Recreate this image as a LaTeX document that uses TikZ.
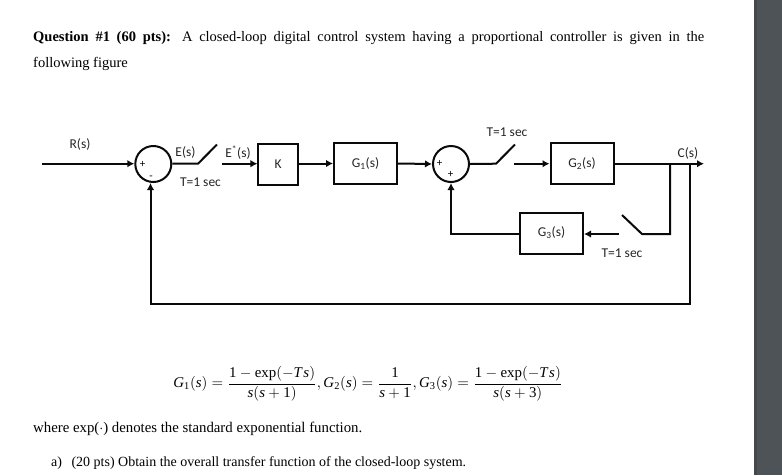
\documentclass[tikz,border=0pt]{standalone}
\usepackage{amsmath}
\usepackage{fontspec}
\setmainfont{Liberation Serif}
\newfontfamily\diagfont{Carlito}
\usetikzlibrary{arrows.meta}
\definecolor{bandgrey}{HTML}{4E5357}
\definecolor{bandedge}{HTML}{43484C}
\definecolor{inkline}{HTML}{0A0A0A}
\newcommand{\mv}[1]{\textit{#1}}
\newcommand{\mn}[1]{\textrm{#1}}
\tikzset{
  x=1pt,y=-1pt,
  wire/.style={draw=inkline,line width=2pt,line join=miter},
  arrowwire/.style={wire,-{Latex[length=7pt,width=7.5pt]}},
  blockbox/.style={draw=inkline,line width=2pt,inner sep=0pt,fill=white,font=\diagfont\fontsize{13.5}{15}\selectfont,text=black!85},
  sumnode/.style={circle,draw=inkline,line width=2pt,minimum size=36pt,inner sep=0pt},
  dlabel/.style={inner sep=0pt,font=\diagfont\fontsize{13.5}{15}\selectfont,text=black!85},
  signlabel/.style={inner sep=0pt,font=\diagfont\fontsize{11}{12}\selectfont,text=black},
  bodytext/.style={inner sep=0pt,anchor=base west,font=\fontsize{14.5}{16}\selectfont,text=black},
}
\begin{document}
\begin{tikzpicture}
\useasboundingbox (0,0) rectangle (782,475);
\fill[bandgrey] (754,0) rectangle (782,475);
\fill[bandedge] (754,0) rectangle (757,475);

% text
\node[bodytext] (line1) at (33,41) {\makebox[671pt][s]{\textbf{Question \#1 (60 pts):} A closed-loop digital control system having a proportional controller is given in the}};
\node[bodytext] (line2) at (33,67) {following figure};
\node[bodytext,font=\fontsize{14.8}{16}\selectfont] (line3) at (33,432) {where exp($\cdot$) denotes the standard exponential function.};
\node[bodytext,font=\fontsize{14}{16}\selectfont] (line4) at (51,466) {a)\hspace{6pt} (20 pts) Obtain the overall transfer function of the closed-loop system.};
\node[inner sep=0pt,scale=1.49] (eqn) at (368,384) {$\displaystyle \mv{G}_{\mn{1}}(\mv{s})=\frac{\mn{1}-\mn{exp}(-\mv{T\kern1pt s})}{\mv{s}(\mv{s}+\mn{1})},\mv{G}_{\mn{2}}(\mv{s})=\frac{\mn{1}}{\mv{s}+\mn{1}},\mv{G}_{\mn{3}}(\mv{s})=\frac{\mn{1}-\mn{exp}(-\mv{T\kern1pt s})}{\mv{s}(\mv{s}+\mn{3})}$};

% nodes
\node[sumnode] (sumA) at (153.3,164) {};
\node[sumnode] (sumB) at (451,164) {};
\node[blockbox,minimum width=39.5pt,minimum height=41pt] (blockK) at (278.2,164.5) {K};
\node[blockbox,minimum width=63pt,minimum height=41pt] (blockGa) at (365.5,163.5) {G\textsubscript{1}(s)};
\node[blockbox,minimum width=63pt,minimum height=41pt] (blockGb) at (582,163.3) {G\textsubscript{2}(s)};
\node[blockbox,minimum width=63pt,minimum height=41pt] (blockGc) at (551.5,233) {G\textsubscript{3}(s)};

% signs
\node[signlabel] (plusA) at (142.5,164) {+};
\node[signlabel] (minusA) at (151,177.5) {-};
\node[signlabel] (plusB) at (439.5,163) {+};
\node[signlabel] (plusC) at (450.5,174.5) {+};

% labels
\node[dlabel] (labR) at (80,144.5) {R(s)};
\node[dlabel] (labE) at (185.5,152.5) {E(s)};
\node[dlabel] (labEs) at (238,152.5) {E\textsuperscript{*}(s)};
\node[dlabel] (labTa) at (200.5,182) {T=1 sec};
\node[dlabel] (labTb) at (507,132.5) {T=1 sec};
\node[dlabel] (labC) at (688,153) {C(s)};
\node[dlabel] (labTc) at (622,253.5) {T=1 sec};

% free points
\coordinate (inR) at (42,163.7);
\coordinate (swAin) at (198,163.7);
\coordinate (swAtip) at (217,144.5);
\coordinate (swAout) at (222,163.7);
\coordinate (swBin) at (496,163.7);
\coordinate (swBtip) at (515,144.5);
\coordinate (swBout) at (514,163.7);
\coordinate (outC) at (704,163.7);
\coordinate (tapG) at (670,163.7);
\coordinate (tapGd) at (670,234);
\coordinate (swCin) at (642,234);
\coordinate (swCtip) at (622,215);
\coordinate (swCout) at (619,234);
\coordinate (tapF) at (690,163.7);
\coordinate (fbA) at (690,303.5);
\coordinate (fbB) at (150.5,303.5);
\coordinate (fbC) at (451,234);

% connectors
\draw[arrowwire] (inR) -- (sumA.west |- inR);
\draw[wire] (sumA.east |- swAin) -- (swAin) -- (swAtip);
\draw[arrowwire] (swAout) -- (blockK.west |- swAout);
\draw[arrowwire] (blockK.east |- blockGa.west) -- (blockGa.west);
\draw[arrowwire] (blockGa.east) -- (sumB.west);
\draw[wire] (sumB.east) -- (swBin) -- (swBtip);
\draw[arrowwire] (swBout) -- (blockGb.west |- swBout);
\draw[arrowwire] (blockGb.east |- outC) -- (outC);
\draw[wire] (tapG) -- (tapGd) -- (swCin) -- (swCtip);
\draw[arrowwire] (swCout) -- (blockGc.east |- swCout);
\draw[arrowwire] (blockGc.west |- fbC) -- (fbC) -- (sumB.south);
\draw[arrowwire] (tapF) -- (fbA) -- (fbB) -- (fbB |- sumA.south);
\end{tikzpicture}
\end{document}
